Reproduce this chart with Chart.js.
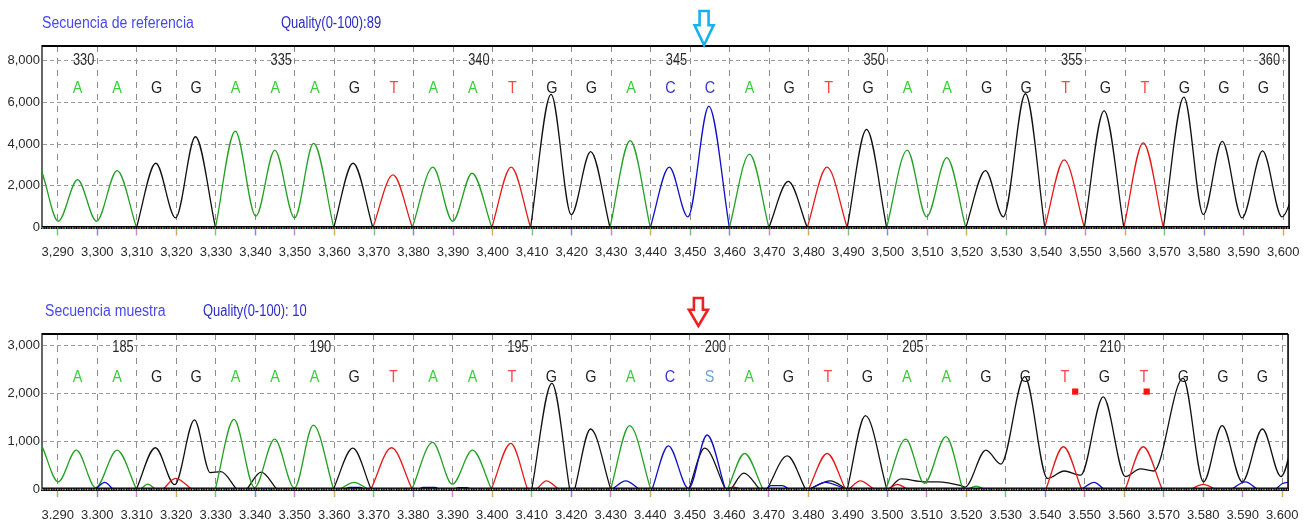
<!DOCTYPE html>
<html><head><meta charset="utf-8">
<script src="https://cdn.jsdelivr.net/npm/chart.js@4"></script>
<style>
html,body{margin:0;padding:0;background:#fff;overflow:hidden;width:1309px;height:524px}
canvas{position:absolute;left:0}
#c1{top:0}#c2{top:262px}
</style></head>
<body>
<canvas id="c1" width="1309" height="262"></canvas>
<canvas id="c2" width="1309" height="262"></canvas>
<script>
// ---------- DATA ----------
const xTicks = [3290,3300,3310,3320,3330,3340,3350,3360,3370,3380,3390,3400,3410,3420,3430,3440,3450,3460,3470,3480,3490,3500,3510,3520,3530,3540,3550,3560,3570,3580,3590,3600];
const topYTicks = [0,2000,4000,6000,8000];
const botYTicks = [0,1000,2000,3000];

const baseX = [3295,3305,3315,3325,3335,3345,3355,3365,3375,3385,3395,3405,3415,3425,3435,3445,3455,3465,3475,3485,3495,3505,3515,3525,3535,3545,3555,3565,3575,3585,3595];
const topBases = ['A','A','G','G','A','A','A','G','T','A','A','T','G','G','A','C','C','A','G','T','G','A','A','G','G','T','G','T','G','G','G'];
const botBases = ['A','A','G','G','A','A','A','G','T','A','A','T','G','G','A','C','S','A','G','T','G','A','A','G','G','T','G','T','G','G','G'];
const topNums = [330,335,340,345,350,355,360];
const topNumIdx = [0,5,10,15,20,25,30];
const botNums = [185,190,195,200,205,210];
const botNumIdx = [1,6,11,16,21,26];

// Top trace (reference) per channel: [x, signal], null = gap
const topA = [
 [3280,0],[3285,2900],[3290.1,300],[3295,2290],[3299.8,300],[3305,2730],[3309.9,0], null,
 [3329.9,0],[3334.9,4620],[3340.1,540],[3344.9,3710],[3349.9,460],[3354.7,4030],[3359.8,0], null,
 [3379.7,0],[3384.9,2890],[3389.9,300],[3394.8,2600],[3399.8,0], null,
 [3429.7,0],[3434.8,4160],[3439.9,0], null,
 [3459.9,0],[3465,3520],[3469.9,0], null,
 [3499.7,0],[3504.9,3710],[3509.8,510],[3514.9,3350],[3519.7,0]
];
const topC = [[3439.9,0],[3444.7,2890],[3449.4,510],[3454.7,5810],[3459.9,0]];
const topG = [
 [3309.9,0],[3314.8,3080],[3319.8,460],[3324.8,4350],[3329.9,0], null,
 [3359.8,0],[3364.7,3080],[3369.7,0], null,
 [3409.6,0],[3414.8,6380],[3419.9,620],[3424.8,3640],[3429.7,0], null,
 [3469.9,0],[3474.8,2210],[3479.6,0], null,
 [3489.7,0],[3494.6,4700],[3499.7,0], null,
 [3519.7,0],[3524.7,2730],[3529.2,510],[3534.8,6410],[3539.7,0], null,
 [3549.7,0],[3554.7,5590],[3559.7,0], null,
 [3569.7,0],[3574.9,6250],[3579.8,620],[3584.6,4130],[3589.6,460],[3594.8,3670],[3599.7,510],[3605,3600]
];
const topT = [
 [3369.7,0],[3374.8,2520],[3379.7,0], null,
 [3399.8,0],[3404.7,2890],[3409.6,0], null,
 [3479.6,0],[3484.6,2890],[3489.7,0], null,
 [3539.7,0],[3544.6,3240],[3549.7,0], null,
 [3559.7,0],[3564.6,4060],[3569.7,0]
];

// Bottom trace (sample)
const botA = [
 [3280,0],[3284.8,1000],[3290.1,150],[3294.7,810],[3299.6,30],[3305,810],[3309.9,0], null,
 [3311,0],[3312.8,100],[3314.6,0], null,
 [3329.9,0],[3334.6,1450],[3339.8,30],[3344.9,1040],[3349.9,20],[3354.7,1330],[3359.8,0], null,
 [3361.5,0],[3365,140],[3368.5,0], null,
 [3379.7,0],[3384.9,970],[3389.9,100],[3395,810],[3399.8,0], null,
 [3430,0],[3434.8,1320],[3440.1,0], null,
 [3459.6,0],[3463.9,740],[3468.5,0], null,
 [3499.7,0],[3504.7,1040],[3509.4,120],[3514.9,1090],[3519.1,0], null,
 [3520.5,0],[3522.5,60],[3524.5,0]
];
const botC = [
 [3299.6,0],[3301.9,140],[3303.9,0], null,
 [3362.5,0],[3364,35],[3366.5,35],[3367.5,0], null,
 [3381.5,0],[3382.5,35],[3385.5,35],[3386.5,0], null,
 [3390.5,0],[3391.5,30],[3393.5,30],[3394.5,0], null,
 [3430.4,0],[3433.8,170],[3437.2,0], null,
 [3440.5,0],[3444.6,900],[3449.7,10],[3454.4,1125],[3459,0], null,
 [3469.5,0],[3470.5,70],[3473.5,70],[3475,0], null,
 [3480.5,0],[3484.3,140],[3489.5,0], null,
 [3549.3,0],[3552.4,140],[3554.8,0], null,
 [3587.3,0],[3590.7,150],[3593.6,0], null,
 [3598.5,0],[3600,110],[3603,150]
];
const botG = [
 [3309.9,0],[3314.7,860],[3319.6,90],[3324.6,1440],[3328.6,340],[3331.3,360],[3335.2,0], null,
 [3337.9,0],[3341.5,350],[3345.4,0], null,
 [3359.8,0],[3364.7,850],[3369.3,0], null,
 [3410,0],[3415.1,2200],[3419.6,0], null,
 [3420.9,0],[3424.9,1250],[3430,0], null,
 [3449.8,0],[3453.8,850],[3459,0], null,
 [3460.5,0],[3463.7,330],[3467.7,0], null,
 [3469.6,0],[3474.7,690],[3479.3,0], null,
 [3480.4,0],[3485.6,170],[3489.7,0], null,
 [3489.9,0],[3494.5,1530],[3499.9,0], null,
 [3500.5,0],[3503.5,210],[3509.4,150],[3512.8,150],[3518.7,70],[3519.7,40],[3525,810],[3528.8,520],[3534.8,2340],[3540.6,220],[3544.8,375],[3549,290],[3554.7,1920],[3560.3,260],[3564.1,420],[3567.5,375],[3574.9,2310],[3580.1,150],[3584.8,1320],[3589.9,150],[3595,1250],[3599.7,260],[3604,1500]
];
const botT = [
 [3316.7,0],[3319.8,220],[3323.9,0], null,
 [3369.3,0],[3374.5,860],[3379.7,0], null,
 [3399.8,0],[3404.7,950],[3408.9,0], null,
 [3411.3,0],[3413.7,170],[3416.8,0], null,
 [3459.3,0],[3461,40],[3462.8,0], null,
 [3480.1,0],[3484.8,740],[3489.4,0], null,
 [3490.3,0],[3493.2,170],[3496.6,0], null,
 [3500.3,0],[3502.6,95],[3505,0], null,
 [3540.2,0],[3544.6,880],[3549.2,0], null,
 [3560.3,0],[3564.8,880],[3569.6,0], null,
 [3577,0],[3580,95],[3583,0]
];
const botMarks = [[3547.6,2030],[3565.7,2030]];

// ---------- STYLE ----------
const FONT = '"Liberation Sans",Arial,sans-serif';
const traceColor = {A:'#22a022', C:'#1010c8', G:'#111111', T:'#e41a1a'};
const letterColor = {A:'#35d035', C:'#3535d8', G:'#222222', T:'#ff4545', S:'#6f9fd8'};
const tickColors = ['#7cc47c','#8a8ad8','#c88ac8','#c8b060'];

function toData(arr){
  const out=[]; let lastX=0;
  for(const p of arr){
    if(p===null){ out.push({x:lastX, y:null}); }
    else { out.push({x:p[0], y:p[1]}); lastX=p[0]; }
  }
  return out;
}
function traceDs(arr, ch){
  return {type:'line', data:toData(arr), borderColor:traceColor[ch], borderWidth:1.3,
    pointRadius:0, cubicInterpolationMode:'monotone', spanGaps:false, fill:false};
}
function drawArrow(ctx, cx, top, bottom, color){
  const sw=4.5, hw=9.5, ht=top+(bottom-top)*0.42;
  ctx.beginPath();
  ctx.moveTo(cx-sw,top); ctx.lineTo(cx+sw,top); ctx.lineTo(cx+sw,ht); ctx.lineTo(cx+hw,ht);
  ctx.lineTo(cx,bottom); ctx.lineTo(cx-hw,ht); ctx.lineTo(cx-sw,ht); ctx.closePath();
  ctx.lineWidth=2.6; ctx.strokeStyle=color; ctx.lineJoin='miter'; ctx.stroke();
}
// narrow (horizontally compressed) text
function nText(ctx, txt, x, y, sx, align){
  ctx.save(); ctx.translate(x, y); ctx.scale(sx, 1);
  ctx.textAlign = align; ctx.textBaseline = 'middle';
  ctx.fillText(txt, 0, 0); ctx.restore();
}

const panelPlugin = {
  id:'panel',
  afterDatasetsDraw(chart, args, o){
    const {ctx, chartArea:a, scales:{x,y}} = chart;
    ctx.save();
    ctx.setLineDash([]);
    ctx.strokeStyle='#000'; ctx.lineWidth=2;
    ctx.beginPath(); ctx.moveTo(a.left,a.top); ctx.lineTo(a.right,a.top); ctx.stroke();
    ctx.lineWidth=1.6;
    ctx.beginPath(); ctx.moveTo(a.right,a.top); ctx.lineTo(a.right,a.bottom+1); ctx.stroke();
    const y0 = y.getPixelForValue(0);
    ctx.lineWidth=3.2; ctx.strokeStyle='#000';
    ctx.beginPath(); ctx.moveTo(a.left,y0); ctx.lineTo(a.right,y0); ctx.stroke();
    ctx.lineWidth=1.4;
    ['#5ad35a','#5a5ae0','#e05a5a'].forEach((c,i)=>{
      ctx.setLineDash([1.5,6]); ctx.lineDashOffset=-i*2.5; ctx.strokeStyle=c;
      ctx.beginPath(); ctx.moveTo(a.left,y0+0.5); ctx.lineTo(a.right,y0+0.5); ctx.stroke();
    });
    ctx.setLineDash([]);
    // base calls
    ctx.font = '17px '+FONT;
    o.bases.forEach((b,i)=>{
      ctx.fillStyle = letterColor[b];
      nText(ctx, b, x.getPixelForValue(baseX[i]), a.top+o.letterDy, 0.85, 'center');
    });
    ctx.font = '16px '+FONT; ctx.fillStyle='#2a2a2a';
    o.nums.forEach((n,k)=>{
      nText(ctx, String(n), x.getPixelForValue(baseX[o.numIdx[k]])+6, a.top+o.numDy, 0.8, 'center');
    });
    // header
    ctx.font = '16px '+FONT;
    ctx.fillStyle='#4848f0'; nText(ctx, o.title, o.titleX, o.headY, 0.88, 'left');
    ctx.fillStyle='#2b2bc8'; nText(ctx, o.quality, o.qualX, o.headY, 0.81, 'left');
    drawArrow(ctx, x.getPixelForValue(o.arrowAt), o.arrowTop, o.arrowBottom, o.arrowColor);
    ctx.restore();
  }
};

function makePanel(id, sets, yMax, yTicks, padTop, padBottom, xH, xPad, pOpts){
  return new Chart(document.getElementById(id), {
    type:'line',
    data:{datasets:sets},
    plugins:[panelPlugin],
    options:{
      responsive:false, animation:false, devicePixelRatio:1,
      layout:{padding:{top:padTop, left:0, right:19, bottom:padBottom}},
      plugins:{legend:{display:false}, tooltip:{enabled:false}, panel:pOpts},
      scales:{
        x:{type:'linear', min:3286, max:3601.5,
          afterBuildTicks:(s)=>{ s.ticks = xTicks.map(v=>({value:v})); },
          afterFit:(s)=>{ s.height = xH; },
          grid:{color:'#8c8c8c', lineWidth:1, drawTicks:true, tickLength:8, tickWidth:1.5,
            tickColor:(c)=>tickColors[c.index%4], tickBorderDash:[]},
          border:{display:true, color:'#000', width:3, dash:[6,6]},
          ticks:{color:'#2a2a2a', font:{family:FONT, size:13}, padding:xPad, maxRotation:0, autoSkip:false}
        },
        y:{type:'linear', min:0, max:yMax,
          afterBuildTicks:(s)=>{ s.ticks = yTicks.map(v=>({value:v})); },
          afterFit:(s)=>{ s.width = 42; },
          grid:{color:'#9a9a9a', lineWidth:1, drawTicks:false},
          border:{display:true, color:'#666', width:2, dash:[4,3]},
          ticks:{color:'#2a2a2a', font:{family:FONT, size:13}, padding:2}
        }
      }
    }
  });
}

makePanel('c1',
  [traceDs(topA,'A'), traceDs(topC,'C'), traceDs(topT,'T'), traceDs(topG,'G')],
  8700, topYTicks, 46, 4.5, 30, 9.5,
  {bases:topBases, nums:topNums, numIdx:topNumIdx, letterDy:42, numDy:15,
   title:'Secuencia de referencia', titleX:42, quality:'Quality(0-100):89', qualX:281, headY:24,
   arrowAt:3453.5, arrowTop:11, arrowBottom:45, arrowColor:'#18b0ee'});

makePanel('c2',
  [{type:'scatter', data:botMarks.map(p=>({x:p[0],y:p[1]})), pointStyle:'rect', pointRadius:4.4,
    backgroundColor:'#ff1010', borderWidth:0},
   traceDs(botC,'C'), traceDs(botA,'A'), traceDs(botT,'T'), traceDs(botG,'G')],
  3230, botYTicks, 72, 5, 30, 10.5,
  {bases:botBases, nums:botNums, numIdx:botNumIdx, letterDy:43, numDy:14,
   title:'Secuencia muestra', titleX:45, quality:'Quality(0-100): 10', qualX:203, headY:50,
   arrowAt:3452.2, arrowTop:36, arrowBottom:64, arrowColor:'#ee2020'});
</script>
</body></html>
